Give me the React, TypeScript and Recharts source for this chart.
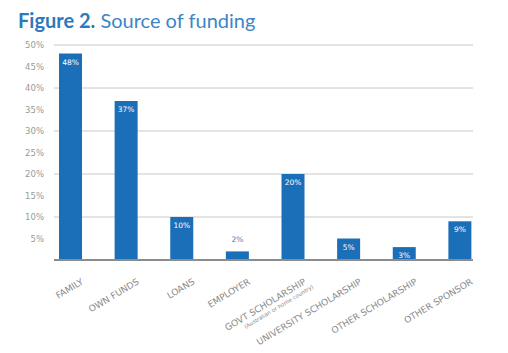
import React from "react";
import { BarChart, Bar, XAxis, YAxis, CartesianGrid, LabelList } from "recharts";

const categories = [
  "FAMILY",
  "OWN FUNDS",
  "LOANS",
  "EMPLOYER",
  "GOVT SCHOLARSHIP",
  "UNIVERSITY SCHOLARSHIP",
  "OTHER SCHOLARSHIP",
  "OTHER SPONSOR",
];
const subLabels: Record<string, string> = {
  "GOVT SCHOLARSHIP": "(Australian or home country)",
};
const shares = [48, 37, 10, 2, 20, 5, 3, 9];
const yTicks = [5, 10, 15, 20, 25, 30, 35, 40, 45, 50];

const data = categories.map((name, i) => ({ name, value: shares[i] }));

const BLUE = "#1b6fb8";
const TITLE_FONT = "Lato, 'DejaVu Sans', sans-serif";
const FONT = "'DejaVu Sans', sans-serif";

// label inside the bar top, or above it when the bar is too short
function ValueLabel(props: any) {
  const { x, y, width, value } = props;
  const cx = x + width / 2;
  if (value <= 2) {
    return (
      <text x={cx} y={y - 9} textAnchor="middle" fontSize={7.5} fill="#3d7fc0" fontFamily={FONT}>
        {value}%
      </text>
    );
  }
  return (
    <text x={cx} y={y + 11} textAnchor="middle" fontSize={7.5} fill="#fff" fontFamily={FONT}>
      {value}%
    </text>
  );
}

function CategoryTick(props: any) {
  const { x, y, payload } = props;
  const sub = subLabels[payload.value];
  return (
    <g transform={`translate(${x + 10},${y + 10}) rotate(-31)`}>
      <text x={0} y={0} textAnchor="end" fontSize={9} fill="#8a8a8a" fontFamily={FONT} dy="0.7em">
        {payload.value}
      </text>
      {sub && (
        <text x={4} y={10} textAnchor="end" fontSize={5.5} fill="#8a8a8a" fontFamily={FONT} dy="0.7em">
          {sub}
        </text>
      )}
    </g>
  );
}

export default function App() {
  return (
    <div style={{ position: "absolute", left: 0, top: 0, width: 508, height: 353, background: "#fff" }}>
      <div
        style={{
          position: "absolute",
          left: 18,
          top: 8,
          fontFamily: TITLE_FONT,
          fontSize: 20,
          color: "#3d85c6",
          whiteSpace: "nowrap",
        }}
      >
        <span style={{ fontWeight: 700, color: "#2f78bd" }}>Figure 2.</span> Source of funding
      </div>
      <div style={{ position: "absolute", left: 0, top: 0 }}>
        <BarChart
          width={508}
          height={353}
          data={data}
          margin={{ top: 45, right: 35, bottom: 0, left: 0 }}
        >
          <CartesianGrid vertical={false} stroke="#c8c8c8" strokeWidth={1} />
          <XAxis
            dataKey="name"
            interval={0}
            height={93}
            padding={{ left: -11, right: -15 }}
            tick={<CategoryTick />}
            tickLine={false}
            axisLine={{ stroke: "#8c8c8c", strokeWidth: 2 }}
          />
          <YAxis
            width={54}
            domain={[0, 50]}
            ticks={yTicks}
            tickFormatter={(v: number) => `${v}%`}
            axisLine={false}
            tickLine={false}
            tickSize={0}
            tickMargin={10}
            tick={{ fontSize: 8.5, fill: "#9a9a9a", fontFamily: FONT }}
          />
          <Bar dataKey="value" fill={BLUE} barSize={23} isAnimationActive={false}>
            <LabelList dataKey="value" content={<ValueLabel />} />
          </Bar>
        </BarChart>
      </div>
    </div>
  );
}
